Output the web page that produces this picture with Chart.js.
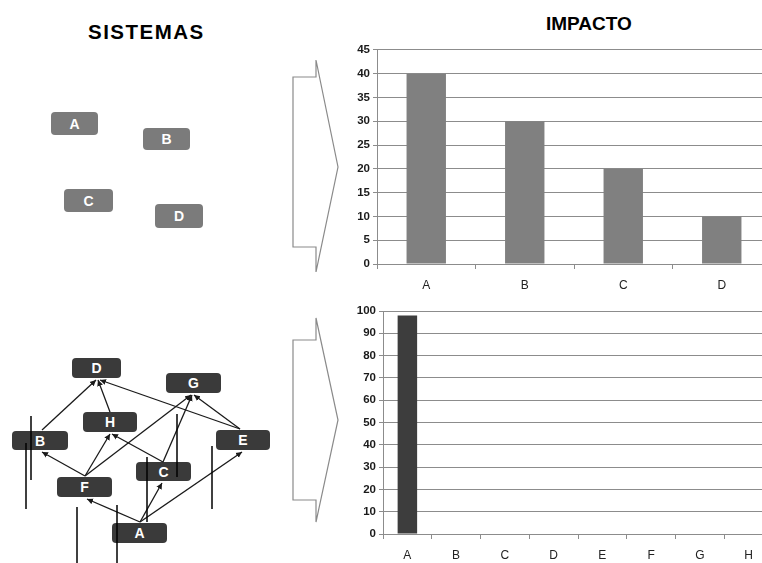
<!DOCTYPE html>
<html>
<head>
<meta charset="utf-8">
<script src="https://cdn.jsdelivr.net/npm/chart.js@4/dist/chart.umd.min.js"></script>
<style>
  html, body { margin: 0; padding: 0; background: #fff; }
  body { width: 762px; height: 563px; position: relative; overflow: hidden;
         font-family: "Liberation Sans", Arial, sans-serif; }
  .title { position: absolute; font-weight: bold; color: #000; white-space: nowrap; line-height: 1; }
  .box { position: absolute; border-radius: 4px; color: #fff; font-weight: bold;
         display: flex; align-items: center; justify-content: center; font-size: 14px; }
  .light { background: #7b7b7b; }
  .dark { background: #3a3a3a; }
  canvas { position: absolute; }
  svg { position: absolute; left: 0; top: 0; }
</style>
</head>
<body>

<div class="title" style="left:88px; top:22px; font-size:20.5px; letter-spacing:1.5px;">SISTEMAS</div>
<div class="title" style="left:546px; top:14px; font-size:19px;">IMPACTO</div>

<!-- independent systems -->
<div class="box light" style="left:51px; top:112px; width:47px; height:23px;">A</div>
<div class="box light" style="left:143px; top:128px; width:47px; height:22px;">B</div>
<div class="box light" style="left:64px; top:189px; width:49px; height:23px;">C</div>
<div class="box light" style="left:155px; top:204px; width:48px; height:24px;">D</div>

<!-- dependent systems -->
<div class="box dark" style="left:72px; top:358px; width:49px; height:20px;">D</div>
<div class="box dark" style="left:166px; top:373px; width:55px; height:20px;">G</div>
<div class="box dark" style="left:83px; top:412px; width:54px; height:20px;">H</div>
<div class="box dark" style="left:12px; top:431px; width:56px; height:19px;">B</div>
<div class="box dark" style="left:216px; top:430px; width:54px; height:20px;">E</div>
<div class="box dark" style="left:136px; top:462px; width:55px; height:19px;">C</div>
<div class="box dark" style="left:57px; top:477px; width:55px; height:20px;">F</div>
<div class="box dark" style="left:112px; top:523px; width:55px; height:20px;">A</div>

<svg width="762" height="563" viewBox="0 0 762 563">
  <defs>
    <marker id="head" markerUnits="userSpaceOnUse" markerWidth="7" markerHeight="7"
            refX="6" refY="3.5" orient="auto">
      <path d="M0,0.5 L6,3.5 L0,6.5 Z" fill="#1a1a1a"/>
    </marker>
  </defs>
  <!-- block arrows between panels -->
  <polygon points="293,77 316,77 316,60 338,167 316,272 316,247 293,247"
           fill="#fff" stroke="#8a8a8a" stroke-width="1.2"/>
  <polygon points="293,340 316,340 316,318 338,420 316,522 316,500 293,500"
           fill="#fff" stroke="#8a8a8a" stroke-width="1.2"/>

  <!-- dependency links -->
  <g stroke="#1a1a1a" stroke-width="1.3" fill="none" marker-end="url(#head)">
    <line x1="42" y1="430" x2="96" y2="380"/>
    <line x1="110" y1="412" x2="98" y2="380"/>
    <line x1="240" y1="429" x2="100" y2="380"/>
    <line x1="240" y1="429" x2="194" y2="395"/>
    <line x1="85" y1="476" x2="42" y2="452"/>
    <line x1="85" y1="476" x2="110" y2="434"/>
    <line x1="85" y1="476" x2="191" y2="395"/>
    <line x1="163" y1="462" x2="112" y2="434"/>
    <line x1="163" y1="462" x2="192" y2="395"/>
    <line x1="140" y1="522" x2="87" y2="499"/>
    <line x1="140" y1="522" x2="162" y2="483"/>
    <line x1="140" y1="522" x2="242" y2="452"/>
  </g>
  <g stroke="#000" stroke-width="1.5">
    <line x1="31" y1="416" x2="31" y2="480"/>
    <line x1="26" y1="443" x2="26" y2="509"/>
    <line x1="177" y1="414" x2="177" y2="477"/>
    <line x1="147" y1="457" x2="147" y2="522"/>
    <line x1="212" y1="446" x2="212" y2="509"/>
    <line x1="77" y1="507" x2="77" y2="563"/>
    <line x1="117" y1="505" x2="117" y2="563"/>
  </g>
</svg>

<canvas id="impactTop" width="440" height="262" style="left:340px; top:40px;"></canvas>
<canvas id="impactBottom" width="440" height="263" style="left:340px; top:300px;"></canvas>

<script>
// Impact of the four independent systems
const topCategories = ['A', 'B', 'C', 'D'];
const topValues = [40, 30, 20, 10];
const topTickMax = 45;
const topTickStep = 5;

// Impact once the eight systems depend on each other
const bottomCategories = ['A', 'B', 'C', 'D', 'E', 'F', 'G', 'H'];
const bottomValues = [98, 0, 0, 0, 0, 0, 0, 0];
const bottomTickMax = 100;
const bottomTickStep = 10;

function impactChart(id, labels, values, color, max, step, geom) {
  return new Chart(document.getElementById(id), {
    type: 'bar',
    data: {
      labels: labels,
      datasets: [{
        data: values,
        backgroundColor: color,
        borderWidth: 0,
        categoryPercentage: 1,
        barPercentage: 0.4
      }]
    },
    options: {
      responsive: false,
      animation: false,
      devicePixelRatio: 1,
      layout: { padding: { top: geom.top, right: geom.right, left: 0, bottom: 0 } },
      plugins: { legend: { display: false }, tooltip: { enabled: false } },
      scales: {
        x: {
          grid: { drawOnChartArea: false, drawTicks: true, tickLength: 5, color: '#8c8c8c', offset: true },
          border: { display: true, color: '#8c8c8c', width: 1 },
          ticks: { color: '#222', padding: geom.xPad,
                   font: { family: 'Liberation Sans', size: 12 } },
          afterFit: s => { s.height = geom.xHeight; }
        },
        y: {
          min: 0,
          max: max,
          grid: { color: '#8c8c8c', lineWidth: 1, tickLength: 4 },
          border: { display: true, color: '#8c8c8c', width: 1 },
          ticks: { stepSize: step, color: '#1a1a1a', padding: 3,
                   font: { family: 'Liberation Sans', size: 11.5, weight: 'bold' } },
          afterFit: s => { s.width = geom.yWidth; }
        }
      }
    }
  });
}

impactChart('impactTop', topCategories, topValues, '#808080', topTickMax, topTickStep,
  { top: 8, right: 9, yWidth: 37, xHeight: 38, xPad: 9 });
impactChart('impactBottom', bottomCategories, bottomValues, '#3d3d3d', bottomTickMax, bottomTickStep,
  { top: 11, right: 7, yWidth: 43, xHeight: 29, xPad: 9 });
</script>
</body>
</html>
